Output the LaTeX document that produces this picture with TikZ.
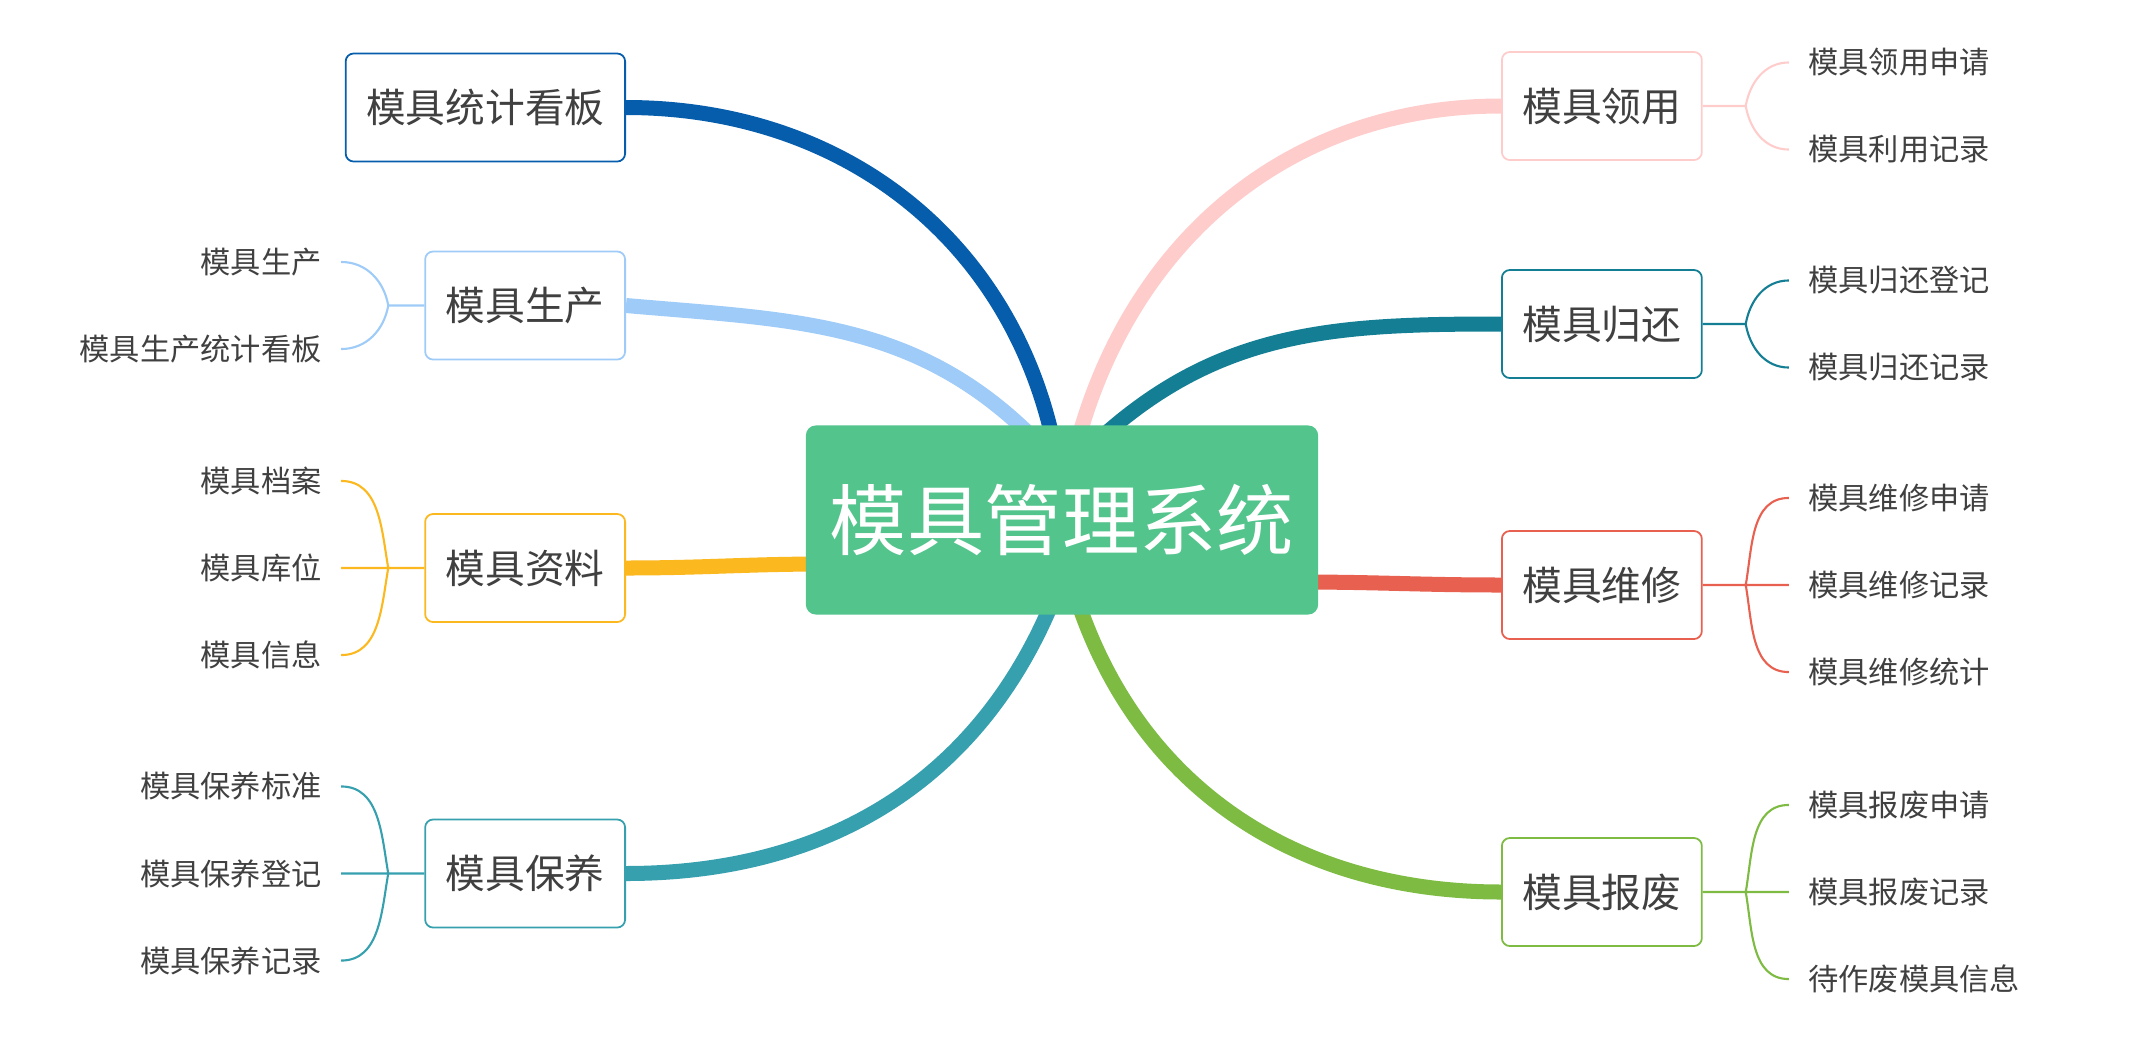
\documentclass[tikz,border=0pt]{standalone}
\usepackage{fontspec}
\usepackage{tikz}
\usetikzlibrary{positioning, calc, backgrounds}
\newfontfamily\cjk{Noto Sans CJK SC}
\definecolor{rootgreen}{RGB}{82,196,140}
\definecolor{txtgray}{RGB}{64,64,64}
\definecolor{kbblue}{RGB}{5,93,172}
\definecolor{scblue}{RGB}{158,203,247}
\definecolor{zlyellow}{RGB}{251,184,31}
\definecolor{byteal}{RGB}{54,160,175}
\definecolor{lypink}{RGB}{255,204,204}
\definecolor{ghteal}{RGB}{20,127,148}
\definecolor{wxred}{RGB}{232,96,79}
\definecolor{bfgreen}{RGB}{125,187,66}

\begin{document}
\begin{tikzpicture}[x=0.01cm, y=0.01cm,
        root/.style={rectangle, fill=rootgreen, text=white, rounded corners=0.1cm, minimum width=5.12cm, minimum height=1.89cm, font=\cjk\fontsize{22}{26}\selectfont},
        box/.style={rectangle, draw=#1, fill=white, line width=0.5pt, rounded corners=0.08cm, minimum height=1.08cm, inner xsep=0.205cm, text=txtgray, font=\cjk\fontsize{11.3}{13}\selectfont},
        leaf/.style={inner sep=0pt, text=txtgray, font=\cjk\fontsize{8.6}{10}\selectfont},
        limb/.style={line width=0.15cm, draw=#1},
        twig/.style={line width=0.6pt, draw=#1}
    ]
        \useasboundingbox (0,0) rectangle (2147,-1060);
        \node[root] (ROOT) at (1062,-520) {模具管理系统};

        % left side
        \node[box=kbblue, anchor=east] (TJKB) at (626,-107.5) {模具统计看板};
        \node[box=scblue, anchor=east] (SC) at (626,-305.5) {模具生产};
        \node[box=zlyellow, anchor=east] (ZL) at (626,-568) {模具资料};
        \node[box=byteal, anchor=east] (BY) at (626,-873.5) {模具保养};

        % right side
        \node[box=lypink, anchor=west] (LY) at (1501,-106) {模具领用};
        \node[box=ghteal, anchor=west] (GH) at (1501,-324) {模具归还};
        \node[box=wxred, anchor=west] (WX) at (1501,-585) {模具维修};
        \node[box=bfgreen, anchor=west] (BF) at (1501,-892) {模具报废};

        \begin{scope}[on background layer]
            \draw[limb=kbblue] ($(ROOT.north)+(-8,-20)$) to[out=102,in=0] (TJKB.east);
            \draw[limb=scblue] ($(ROOT.north)+(-28,-14)$) to[out=135,in=-5] (SC.east);
            \draw[limb=zlyellow] ($(ROOT.west)+(20,-44)$) to[out=180,in=0] (ZL.east);
            \draw[limb=byteal] ($(ROOT.south)+(-7.5,18.5)$) to[out=-112,in=0] (BY.east);
            \draw[limb=lypink] ($(ROOT.north)+(15,-19)$) to[out=75,in=180] (LY.west);
            \draw[limb=ghteal] ($(ROOT.north)+(39,-13)$) to[out=42,in=180] (GH.west);
            \draw[limb=wxred] ($(ROOT.east)+(-20,-62)$) to[out=0,in=180] (WX.west);
            \draw[limb=bfgreen] ($(ROOT.south)+(14,19)$) to[out=-72,in=180] (BF.west);
        \end{scope}

        % leaves, left
        \node[leaf, left=1.02cm of SC.west, yshift=0.435cm] (SC1) {模具生产};
        \node[leaf, left=1.02cm of SC.west, yshift=-0.435cm] (SC2) {模具生产统计看板};
        \node[leaf, left=1.02cm of ZL.west, yshift=0.87cm] (ZL1) {模具档案};
        \node[leaf, left=1.02cm of ZL.west] (ZL2) {模具库位};
        \node[leaf, left=1.02cm of ZL.west, yshift=-0.87cm] (ZL3) {模具信息};
        \node[leaf, left=1.02cm of BY.west, yshift=0.87cm] (BY1) {模具保养标准};
        \node[leaf, left=1.02cm of BY.west] (BY2) {模具保养登记};
        \node[leaf, left=1.02cm of BY.west, yshift=-0.87cm] (BY3) {模具保养记录};

        % leaves, right
        \node[leaf, right=1.05cm of LY.east, yshift=0.435cm] (LY1) {模具领用申请};
        \node[leaf, right=1.05cm of LY.east, yshift=-0.435cm] (LY2) {模具利用记录};
        \node[leaf, right=1.05cm of GH.east, yshift=0.435cm] (GH1) {模具归还登记};
        \node[leaf, right=1.05cm of GH.east, yshift=-0.435cm] (GH2) {模具归还记录};
        \node[leaf, right=1.05cm of WX.east, yshift=0.87cm] (WX1) {模具维修申请};
        \node[leaf, right=1.05cm of WX.east] (WX2) {模具维修记录};
        \node[leaf, right=1.05cm of WX.east, yshift=-0.87cm] (WX3) {模具维修统计};
        \node[leaf, right=1.05cm of BF.east, yshift=0.87cm] (BF1) {模具报废申请};
        \node[leaf, right=1.05cm of BF.east] (BF2) {模具报废记录};
        \node[leaf, right=1.05cm of BF.east, yshift=-0.87cm] (BF3) {待作废模具信息};

        % brackets
        \draw[twig=scblue] (SC.west) -- ++(-36,0) coordinate (SCv)
            to[out=100,in=0] ($(SC1.east)+(19,0)$)
            (SCv) to[out=-100,in=0] ($(SC2.east)+(19,0)$);
        \draw[twig=zlyellow] (ZL.west) -- ++(-36,0) coordinate (ZLv)
            to[out=100,in=0] ($(ZL1.east)+(19,0)$)
            (ZLv) -- ($(ZL2.east)+(19,0)$)
            (ZLv) to[out=-100,in=0] ($(ZL3.east)+(19,0)$);
        \draw[twig=byteal] (BY.west) -- ++(-36,0) coordinate (BYv)
            to[out=100,in=0] ($(BY1.east)+(19,0)$)
            (BYv) -- ($(BY2.east)+(19,0)$)
            (BYv) to[out=-100,in=0] ($(BY3.east)+(19,0)$);
        \draw[twig=lypink] (LY.east) -- ++(43,0) coordinate (LYv)
            to[out=80,in=180] ($(LY1.west)+(-19,0)$)
            (LYv) to[out=-80,in=180] ($(LY2.west)+(-19,0)$);
        \draw[twig=ghteal] (GH.east) -- ++(43,0) coordinate (GHv)
            to[out=80,in=180] ($(GH1.west)+(-19,0)$)
            (GHv) to[out=-80,in=180] ($(GH2.west)+(-19,0)$);
        \draw[twig=wxred] (WX.east) -- ++(43,0) coordinate (WXv)
            to[out=80,in=180] ($(WX1.west)+(-19,0)$)
            (WXv) -- ($(WX2.west)+(-19,0)$)
            (WXv) to[out=-80,in=180] ($(WX3.west)+(-19,0)$);
        \draw[twig=bfgreen] (BF.east) -- ++(43,0) coordinate (BFv)
            to[out=80,in=180] ($(BF1.west)+(-19,0)$)
            (BFv) -- ($(BF2.west)+(-19,0)$)
            (BFv) to[out=-80,in=180] ($(BF3.west)+(-19,0)$);
    \end{tikzpicture}
\end{document}
